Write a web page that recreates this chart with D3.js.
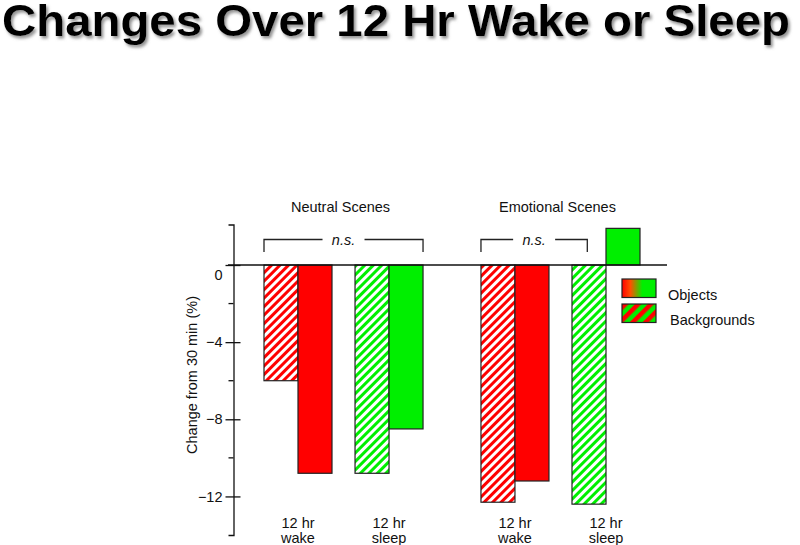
<!DOCTYPE html>
<html>
<head>
<meta charset="utf-8">
<style>
    body { margin: 0; background: white; }
    svg { display: block; font-family: "Liberation Sans", Arial, sans-serif; }
    .axis text { font-size: 14.5px; fill: #111; }
    .axis line, .axis path { stroke: #111; stroke-width: 1.3px; }
</style>
</head>
<body>
<svg width="800" height="545"></svg>
<script src="https://cdn.jsdelivr.net/npm/d3@7"></script>
<script>
    // data
    var groups = ["Neutral Scenes", "Emotional Scenes"];
    var conditions = ["wake", "sleep"];
    var conditionLabels = ["12 hr", "12 hr"];
    var itemTypes = ["Backgrounds", "Objects"];
    var neutralWake = [-6.0, -10.8];
    var neutralSleep = [-10.8, -8.5];
    var emotionalWake = [-12.3, -11.2];
    var emotionalSleep = [-12.4, 1.9];
    var majorTicks = [0, -4, -8, -12];
    var minorTicks = [-2, -6, -10];
    var legendLabels = ["Objects", "Backgrounds"];

    var values = {
        "Neutral Scenes": { wake: neutralWake, sleep: neutralSleep },
        "Emotional Scenes": { wake: emotionalWake, sleep: emotionalSleep }
    };
    var bars = [];
    groups.forEach(function(g) {
        conditions.forEach(function(c) {
            itemTypes.forEach(function(t, i) {
                bars.push({ group: g, cond: c, type: t, value: values[g][c][i] });
            });
        });
    });

    var red = "#ff0000", green = "#00ef00";
    var svg = d3.select("svg");
    var defs = svg.append("defs");

    // title shadow
    var f = defs.append("filter").attr("id", "shadow")
        .attr("x", "-5%").attr("y", "-20%").attr("width", "110%").attr("height", "150%");
    f.append("feDropShadow").attr("dx", 2).attr("dy", 2.5)
        .attr("stdDeviation", 1.5).attr("flood-color", "#777").attr("flood-opacity", 0.8);

    // hatches
    function hatch(id, col, size, bg) {
        var p = defs.append("pattern").attr("id", id)
            .attr("patternUnits", "userSpaceOnUse")
            .attr("width", size).attr("height", size)
            .attr("patternTransform", "rotate(45)");
        p.append("rect").attr("width", size).attr("height", size).attr("fill", bg);
        p.append("rect").attr("width", size / 2).attr("height", size).attr("fill", col);
    }
    hatch("hatch-red", red, 6, "white");
    hatch("hatch-green", green, 6, "white");
    hatch("hatch-legend", red, 9, green);

    var grad = defs.append("linearGradient").attr("id", "grad-obj");
    grad.append("stop").attr("offset", "0%").attr("stop-color", red);
    grad.append("stop").attr("offset", "25%").attr("stop-color", "#ff5000");
    grad.append("stop").attr("offset", "60%").attr("stop-color", green);
    grad.append("stop").attr("offset", "100%").attr("stop-color", green);

    svg.append("text")
        .attr("x", 2).attr("y", 36)
        .attr("font-size", "45px").attr("font-weight", "bold")
        .attr("textLength", 788).attr("lengthAdjust", "spacingAndGlyphs")
        .attr("filter", "url(#shadow)")
        .text("Changes Over 12 Hr Wake or Sleep");

    // scales
    var x0 = d3.scaleBand().domain(groups).range([264, 640]).paddingInner(0.267);
    var x1 = d3.scaleBand().domain(conditions).range([0, x0.bandwidth()]).paddingInner(0.253);
    var x2 = d3.scaleBand().domain(itemTypes).range([0, x1.bandwidth()]);
    var y = d3.scaleLinear().domain([2.1, -14]).range([224.5, 535]);
    var axisX = 233.5;

    function barX(d) { return x0(d.group) + x1(d.cond) + x2(d.type); }

    // y axis
    var yAxis = svg.append("g").attr("class", "axis")
        .attr("transform", "translate(" + axisX + ",0)")
        .call(d3.axisLeft(y).tickValues(majorTicks).tickSizeInner(8).tickSizeOuter(5)
            .tickPadding(3).tickFormat(d3.format("d")));
    yAxis.selectAll(".tick line").attr("x1", 7);
    yAxis.selectAll(".tick text").filter(function(d) { return d === 0; }).attr("dy", "1.0em");
    yAxis.selectAll(".minor").data(minorTicks).enter().append("line")
        .attr("class", "minor")
        .attr("x1", -5).attr("x2", 0)
        .attr("y1", function(d) { return y(d); }).attr("y2", function(d) { return y(d); });

    svg.append("text")
        .attr("transform", "translate(197," + 375 + ") rotate(-90)")
        .attr("text-anchor", "middle").attr("font-size", "14.5px").attr("fill", "#111")
        .text("Change from 30 min (%)");

    // bars
    svg.append("g").selectAll("rect").data(bars).enter().append("rect")
        .attr("x", barX)
        .attr("width", x2.bandwidth())
        .attr("y", function(d) { return y(Math.max(0, d.value)); })
        .attr("height", function(d) { return Math.abs(y(d.value) - y(0)); })
        .attr("fill", function(d) {
            var isWake = d.cond === "wake";
            if (d.type === "Objects") return isWake ? red : green;
            return isWake ? "url(#hatch-red)" : "url(#hatch-green)";
        })
        .attr("stroke", "#222").attr("stroke-width", 1.2);

    // zero line
    svg.append("line")
        .attr("x1", 228).attr("x2", 667)
        .attr("y1", y(0)).attr("y2", y(0))
        .attr("stroke", "#111").attr("stroke-width", 1.3);

    // group titles
    svg.append("g").selectAll("text").data(groups).enter().append("text")
        .attr("x", function(d) { return x0(d) + x0.bandwidth() / 2 - 3; })
        .attr("y", 212)
        .attr("text-anchor", "middle").attr("font-size", "14.5px").attr("fill", "#111")
        .text(function(d) { return d; });

    // condition labels
    var cl = svg.append("g").selectAll("g")
        .data(d3.cross(groups, conditions)).enter().append("text")
        .attr("text-anchor", "middle").attr("font-size", "14.5px").attr("fill", "#111")
        .attr("transform", function(d) {
            return "translate(" + (x0(d[0]) + x1(d[1]) + x1.bandwidth() / 2) + ",528)";
        });
    cl.append("tspan").attr("x", 0).attr("y", 0)
        .text(function(d) { return conditionLabels[conditions.indexOf(d[1])]; });
    cl.append("tspan").attr("x", 0).attr("y", 15).text(function(d) { return d[1]; });

    // n.s. brackets: [group, start cond, start type, fraction, end cond, end type, fraction]
    var brackets = [
        ["Neutral Scenes", "wake", "Backgrounds", 0, "sleep", "Objects", 1],
        ["Emotional Scenes", "wake", "Backgrounds", 0, "sleep", "Backgrounds", 0.45]
    ];
    var bTop = 239.5, bLeg = 252;
    brackets.forEach(function(b) {
        var xa = x0(b[0]) + x1(b[1]) + x2(b[2]) + b[3] * x2.bandwidth();
        var xb = x0(b[0]) + x1(b[4]) + x2(b[5]) + b[6] * x2.bandwidth();
        var xm = (xa + xb) / 2;
        var gap = 21;
        var g = svg.append("g").attr("fill", "none").attr("stroke", "#222").attr("stroke-width", 1.3);
        g.append("path").attr("d", "M" + xa + "," + bLeg + "V" + bTop + "H" + (xm - gap));
        g.append("path").attr("d", "M" + (xm + gap) + "," + bTop + "H" + xb + "V" + bLeg);
        svg.append("text").attr("x", xm).attr("y", bTop + 5)
            .attr("text-anchor", "middle").attr("font-size", "14.5px")
            .attr("font-style", "italic").attr("fill", "#111")
            .text("n.s.");
    });

    // legend
    var legend = svg.append("g").attr("transform", "translate(622,279)");
    var legFills = ["url(#grad-obj)", "url(#hatch-legend)"];
    legendLabels.forEach(function(l, i) {
        legend.append("rect")
            .attr("x", 0).attr("y", i * 25)
            .attr("width", 34).attr("height", 18.5)
            .attr("fill", legFills[i])
            .attr("stroke", "#222").attr("stroke-width", 1.2);
        legend.append("text")
            .attr("x", 46 + i * 2).attr("y", i * 25 + 21)
            .attr("font-size", "14.5px").attr("fill", "#111")
            .text(l);
    });
</script>
</body>
</html>
